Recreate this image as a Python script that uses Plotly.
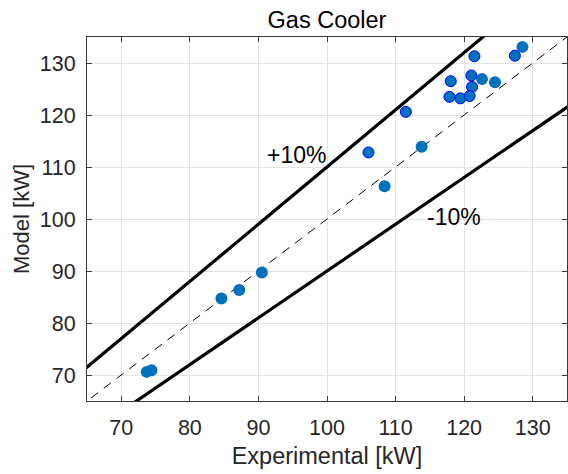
import plotly.graph_objects as go

# Points drawn without edge
exp_a = [128.5, 122.6, 124.5, 113.8, 108.4, 90.5, 87.2, 84.6, 73.7, 74.4]
mod_a = [133.1, 126.9, 126.3, 113.9, 106.3, 89.7, 86.35, 84.7, 70.6, 70.9]
# Points drawn with blue edge
exp_b = [127.4, 121.5, 118.05, 121.05, 121.15, 117.85, 119.45, 120.8, 111.5, 106.05]
mod_b = [131.4, 131.3, 126.5, 127.6, 125.4, 123.5, 123.2, 123.65, 120.6, 112.8]

line_x = [60, 140]
ideal = [v * 1.0 for v in line_x]
plus10 = [v * 1.1 for v in line_x]
minus10 = [v * 0.9 for v in line_x]

xticks = [70, 80, 90, 100, 110, 120, 130]
yticks = [70, 80, 90, 100, 110, 120, 130]

FONT = "Liberation Sans, Arial, Helvetica, sans-serif"
fig = go.Figure()
fig.add_trace(go.Scatter(x=line_x, y=ideal, mode="lines",
                         line=dict(color="black", width=1, dash="9px,7px"), hoverinfo="skip"))
fig.add_trace(go.Scatter(x=line_x, y=plus10, mode="lines",
                         line=dict(color="black", width=3.2), hoverinfo="skip"))
fig.add_trace(go.Scatter(x=line_x, y=minus10, mode="lines",
                         line=dict(color="black", width=3.2), hoverinfo="skip"))
fig.add_trace(go.Scatter(x=exp_a, y=mod_a, mode="markers",
                         marker=dict(size=12, color="#0072BD", line=dict(width=0))))
fig.add_trace(go.Scatter(x=exp_b, y=mod_b, mode="markers",
                         marker=dict(size=11, color="#0070C0", line=dict(width=1, color="#0000FF"))))

fig.add_annotation(x=95.5, y=112.3, text="+10%", showarrow=False,
                   font=dict(family=FONT, size=23, color="black"))
fig.add_annotation(x=118.5, y=100.3, text="-10%", showarrow=False,
                   font=dict(family=FONT, size=23, color="black"))

axis_common = dict(
    showgrid=True, gridcolor="#e3e3e3", gridwidth=1,
    showline=True, linecolor="#3a3a3a", linewidth=1, mirror="ticks",
    ticks="inside", ticklen=5, tickcolor="#3a3a3a", tickwidth=1,
    zeroline=False,
    tickfont=dict(family=FONT, size=21.5, color="#262626"),
)

fig.update_layout(
    width=568, height=474,
    margin=dict(l=87, r=1, t=37, b=73),
    plot_bgcolor="white", paper_bgcolor="white",
    showlegend=False,
    title=dict(text="Gas Cooler", x=0.5, xref="paper", xanchor="center",
               y=1 - 20 / 474, yanchor="middle",
               font=dict(family=FONT, size=23.5, color="black")),
    xaxis=dict(range=[65, 135], tickvals=xticks, ticklabelstandoff=7,
               title=dict(text="Experimental [kW]", standoff=8,
                          font=dict(family=FONT, size=23.5, color="#262626")),
               **axis_common),
    yaxis=dict(range=[65, 135], tickvals=yticks, ticklabelstandoff=6,
               title=dict(text="Model [kW]", standoff=4,
                          font=dict(family=FONT, size=22, color="#262626")),
               **axis_common),
)

fig.write_html("out.html")
